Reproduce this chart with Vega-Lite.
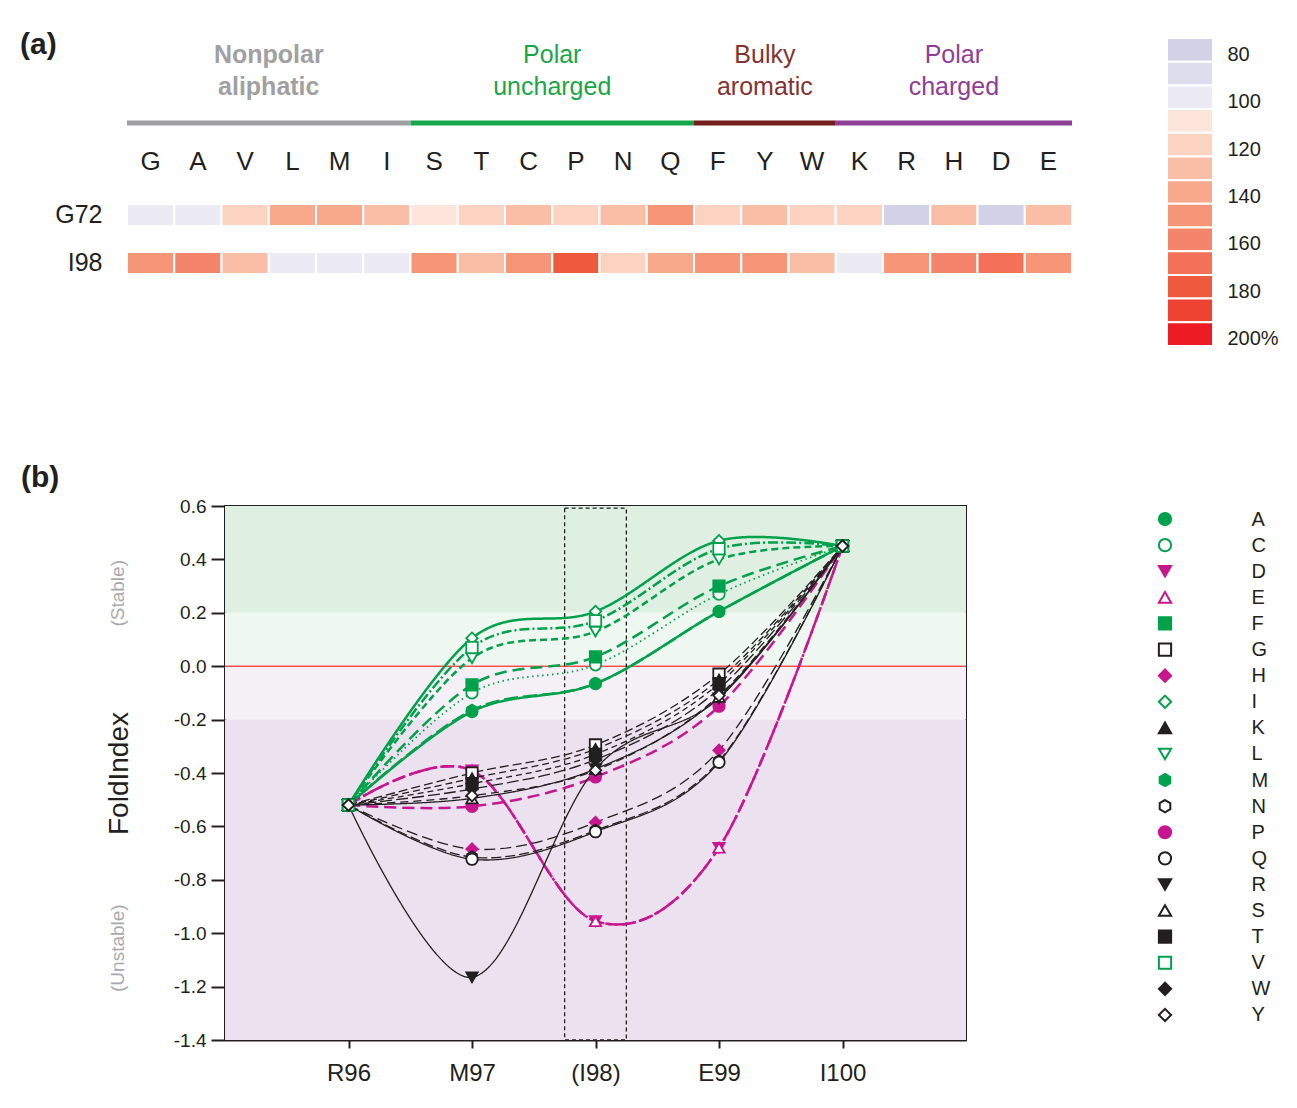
{
  "$schema": "https://vega.github.io/schema/vega-lite/v6.json",
  "padding": {"left": 19, "top": 30, "right": 5, "bottom": 5},
  "background": "white",
  "columns": 2,
  "align": "none",
  "spacing": {"row": 113, "column": 0},
  "config": {
    "font": "Liberation Sans",
    "view": {"stroke": null},
    "axis": {"grid": false, "labelFont": "Liberation Sans", "titleFont": "Liberation Sans", "labelColor": "#231f20", "titleColor": "#231f20", "domainColor": "#231f20", "tickColor": "#231f20"},
    "title": {"font": "Liberation Sans", "fontSize": 30, "fontWeight": "bold", "color": "#231f20", "anchor": "start", "frame": "group"}
  },
  "resolve": {
    "scale": {"color": "independent", "fill": "independent", "stroke": "independent", "shape": "independent", "strokeDash": "independent", "strokeWidth": "independent"}
  },
  "datasets": {
    "heat": [
      {"aa":"G","site":"G72","pct":100},{"aa":"A","site":"G72","pct":100},{"aa":"V","site":"G72","pct":120},{"aa":"L","site":"G72","pct":140},{"aa":"M","site":"G72","pct":140},
      {"aa":"I","site":"G72","pct":130},{"aa":"S","site":"G72","pct":110},{"aa":"T","site":"G72","pct":120},{"aa":"C","site":"G72","pct":130},{"aa":"P","site":"G72","pct":120},
      {"aa":"N","site":"G72","pct":130},{"aa":"Q","site":"G72","pct":150},{"aa":"F","site":"G72","pct":120},{"aa":"Y","site":"G72","pct":130},{"aa":"W","site":"G72","pct":120},
      {"aa":"K","site":"G72","pct":120},{"aa":"R","site":"G72","pct":80},{"aa":"H","site":"G72","pct":130},{"aa":"D","site":"G72","pct":80},{"aa":"E","site":"G72","pct":130},
      {"aa":"G","site":"I98","pct":150},{"aa":"A","site":"I98","pct":160},{"aa":"V","site":"I98","pct":130},{"aa":"L","site":"I98","pct":100},{"aa":"M","site":"I98","pct":100},
      {"aa":"I","site":"I98","pct":100},{"aa":"S","site":"I98","pct":150},{"aa":"T","site":"I98","pct":130},{"aa":"C","site":"I98","pct":150},{"aa":"P","site":"I98","pct":180},
      {"aa":"N","site":"I98","pct":120},{"aa":"Q","site":"I98","pct":140},{"aa":"F","site":"I98","pct":150},{"aa":"Y","site":"I98","pct":150},{"aa":"W","site":"I98","pct":130},
      {"aa":"K","site":"I98","pct":100},{"aa":"R","site":"I98","pct":150},{"aa":"H","site":"I98","pct":160},{"aa":"D","site":"I98","pct":170},{"aa":"E","site":"I98","pct":150}
    ],
    "bins": [
      {"pct":80},{"pct":90},{"pct":100},{"pct":110},{"pct":120},{"pct":130},{"pct":140},{"pct":150},{"pct":160},{"pct":170},{"pct":180},{"pct":190},{"pct":200}
    ],
    "groups": [
      {"name":"Nonpolar aliphatic","first":"G","last":"I","mid":"L"},
      {"name":"Polar uncharged","first":"S","last":"Q","mid":"P"},
      {"name":"Bulky aromatic","first":"F","last":"W","mid":"Y"},
      {"name":"Polar charged","first":"K","last":"E","mid":"H"}
    ],
    "bands": [
      {"zone":"stable","lo":0.2,"hi":0.6},
      {"zone":"marginally stable","lo":0,"hi":0.2},
      {"zone":"marginally unstable","lo":-0.2,"hi":0},
      {"zone":"unstable","lo":-1.4,"hi":-0.2}
    ],
    "window": [
      {"site":"I98","res_lo":97.75,"res_hi":98.25,"fi_lo":-1.4,"fi_hi":0.592}
    ],
    "fold": [
      {"aa":"A","res":96,"fi":-0.52},{"aa":"A","res":97,"fi":-0.17},{"aa":"A","res":98,"fi":-0.065},{"aa":"A","res":99,"fi":0.205},{"aa":"A","res":100,"fi":0.45},
      {"aa":"C","res":96,"fi":-0.52},{"aa":"C","res":97,"fi":-0.10},{"aa":"C","res":98,"fi":0.005},{"aa":"C","res":99,"fi":0.27},{"aa":"C","res":100,"fi":0.45},
      {"aa":"D","res":96,"fi":-0.52},{"aa":"D","res":97,"fi":-0.39},{"aa":"D","res":98,"fi":-0.955},{"aa":"D","res":99,"fi":-0.68},{"aa":"D","res":100,"fi":0.45},
      {"aa":"E","res":96,"fi":-0.52},{"aa":"E","res":97,"fi":-0.39},{"aa":"E","res":98,"fi":-0.955},{"aa":"E","res":99,"fi":-0.68},{"aa":"E","res":100,"fi":0.45},
      {"aa":"F","res":96,"fi":-0.52},{"aa":"F","res":97,"fi":-0.07},{"aa":"F","res":98,"fi":0.035},{"aa":"F","res":99,"fi":0.30},{"aa":"F","res":100,"fi":0.45},
      {"aa":"G","res":96,"fi":-0.52},{"aa":"G","res":97,"fi":-0.40},{"aa":"G","res":98,"fi":-0.295},{"aa":"G","res":99,"fi":-0.03},{"aa":"G","res":100,"fi":0.45},
      {"aa":"H","res":96,"fi":-0.52},{"aa":"H","res":97,"fi":-0.685},{"aa":"H","res":98,"fi":-0.585},{"aa":"H","res":99,"fi":-0.315},{"aa":"H","res":100,"fi":0.45},
      {"aa":"I","res":96,"fi":-0.52},{"aa":"I","res":97,"fi":0.105},{"aa":"I","res":98,"fi":0.205},{"aa":"I","res":99,"fi":0.47},{"aa":"I","res":100,"fi":0.45},
      {"aa":"K","res":96,"fi":-0.52},{"aa":"K","res":97,"fi":-0.42},{"aa":"K","res":98,"fi":-0.31},{"aa":"K","res":99,"fi":-0.05},{"aa":"K","res":100,"fi":0.45},
      {"aa":"L","res":96,"fi":-0.52},{"aa":"L","res":97,"fi":0.03},{"aa":"L","res":98,"fi":0.13},{"aa":"L","res":99,"fi":0.40},{"aa":"L","res":100,"fi":0.45},
      {"aa":"M","res":96,"fi":-0.52},{"aa":"M","res":97,"fi":-0.165},{"aa":"M","res":98,"fi":-0.065},{"aa":"M","res":99,"fi":0.205},{"aa":"M","res":100,"fi":0.45},
      {"aa":"N","res":96,"fi":-0.52},{"aa":"N","res":97,"fi":-0.715},{"aa":"N","res":98,"fi":-0.615},{"aa":"N","res":99,"fi":-0.355},{"aa":"N","res":100,"fi":0.45},
      {"aa":"P","res":96,"fi":-0.52},{"aa":"P","res":97,"fi":-0.525},{"aa":"P","res":98,"fi":-0.415},{"aa":"P","res":99,"fi":-0.15},{"aa":"P","res":100,"fi":0.45},
      {"aa":"Q","res":96,"fi":-0.52},{"aa":"Q","res":97,"fi":-0.723},{"aa":"Q","res":98,"fi":-0.62},{"aa":"Q","res":99,"fi":-0.36},{"aa":"Q","res":100,"fi":0.45},
      {"aa":"R","res":96,"fi":-0.52},{"aa":"R","res":97,"fi":-1.165},{"aa":"R","res":98,"fi":-0.385},{"aa":"R","res":99,"fi":-0.12},{"aa":"R","res":100,"fi":0.45},
      {"aa":"S","res":96,"fi":-0.52},{"aa":"S","res":97,"fi":-0.495},{"aa":"S","res":98,"fi":-0.385},{"aa":"S","res":99,"fi":-0.115},{"aa":"S","res":100,"fi":0.45},
      {"aa":"T","res":96,"fi":-0.52},{"aa":"T","res":97,"fi":-0.44},{"aa":"T","res":98,"fi":-0.33},{"aa":"T","res":99,"fi":-0.065},{"aa":"T","res":100,"fi":0.45},
      {"aa":"V","res":96,"fi":-0.52},{"aa":"V","res":97,"fi":0.07},{"aa":"V","res":98,"fi":0.17},{"aa":"V","res":99,"fi":0.44},{"aa":"V","res":100,"fi":0.45},
      {"aa":"W","res":96,"fi":-0.52},{"aa":"W","res":97,"fi":-0.46},{"aa":"W","res":98,"fi":-0.35},{"aa":"W","res":99,"fi":-0.085},{"aa":"W","res":100,"fi":0.45},
      {"aa":"Y","res":96,"fi":-0.52},{"aa":"Y","res":97,"fi":-0.485},{"aa":"Y","res":98,"fi":-0.39},{"aa":"Y","res":99,"fi":-0.11},{"aa":"Y","res":100,"fi":0.45}
    ],
    "zones": [
      {"label":"(Stable)","fi":0.273},
      {"label":"(Unstable)","fi":-1.056}
    ],
    "zero": [
      {"fi":0}
    ]
  },
  "concat": [
    {
      "width": 1, "height": 1,
      "data": {"values": []},
      "mark": "point"
    },
    {
      "hconcat": [
        {
          "title": {"text": "(a)", "dx": -107, "dy": 22, "offset": 0},
          "width": 945,
          "height": 258,
          "layer": [
            {
              "data": {"name": "heat"},
              "mark": {"type": "rect", "stroke": "white", "strokeWidth": 2},
              "encoding": {
                "x": {"field": "aa", "type": "nominal", "sort": null, "scale": {"domain": ["G","A","V","L","M","I","S","T","C","P","N","Q","F","Y","W","K","R","H","D","E"], "paddingInner": 0, "paddingOuter": 0}, "axis": null},
                "y": {"field": "site", "type": "nominal", "sort": null, "scale": {"domain": ["names","bar","letters","G72","I98"], "paddingInner": 0.5417, "paddingOuter": 0.4583}, "axis": {"values": ["G72","I98"], "title": null, "domain": false, "ticks": false, "labelFontSize": 25, "labelPadding": 25}},
                "fill": {"field": "pct", "type": "ordinal", "legend": null,
                  "scale": {"domain": [80,90,100,110,120,130,140,150,160,170,180,190,200], "range": ["#d3d1e6","#dedded","#ecebf4","#fde5dc","#fcd3c1","#fabea6","#f8a88b","#f69677","#f4846a","#f27157","#ef5a3f","#ee4232","#ed1c24"]}}
              }
            },
            {
              "data": {"name": "heat"},
              "transform": [{"filter": "datum.site == 'G72'"}],
              "mark": {"type": "text", "fontSize": 26, "color": "#231f20", "baseline": "middle"},
              "encoding": {
                "x": {"field": "aa", "type": "nominal", "sort": null, "scale": {"domain": ["G","A","V","L","M","I","S","T","C","P","N","Q","F","Y","W","K","R","H","D","E"]}, "axis": null},
                "y": {"datum": "letters", "type": "nominal", "bandPosition": 0.27, "scale": {"domain": ["names","bar","letters","G72","I98"]}, "axis": {"values": ["G72","I98"], "title": null, "domain": false, "ticks": false, "labelFontSize": 25, "labelPadding": 25}},
                "text": {"field": "aa"}
              }
            },
            {
              "data": {"name": "groups"},
              "mark": {"type": "rule", "strokeWidth": 5},
              "encoding": {
                "x": {"field": "first", "type": "nominal", "bandPosition": 0, "scale": {"domain": ["G","A","V","L","M","I","S","T","C","P","N","Q","F","Y","W","K","R","H","D","E"]}, "axis": null},
                "x2": {"field": "last", "bandPosition": 1},
                "y": {"datum": "bar", "type": "nominal", "bandPosition": 0.68, "scale": {"domain": ["names","bar","letters","G72","I98"]}, "axis": {"values": ["G72","I98"], "title": null, "domain": false, "ticks": false, "labelFontSize": 25, "labelPadding": 25}},
                "color": {"field": "name", "type": "nominal", "scale": {"domain": ["Nonpolar aliphatic","Polar uncharged","Bulky aromatic","Polar charged"], "range": ["#a0a0a3","#19a64a","#741e1e","#8e3e96"]}, "legend": null}
              }
            },
            {
              "data": {"name": "groups"},
              "transform": [{"filter": {"field": "name", "oneOf": ["Nonpolar aliphatic"]}}],
              "mark": {"type": "text", "fontSize": 25, "fontWeight": "bold", "lineBreak": " ", "lineHeight": 32, "baseline": "middle", "dy": -16, "color": "#a0a0a3"},
              "encoding": {
                "x": {"field": "mid", "type": "nominal", "bandPosition": 0, "scale": {"domain": ["G","A","V","L","M","I","S","T","C","P","N","Q","F","Y","W","K","R","H","D","E"]}, "axis": null},
                "y": {"datum": "names", "type": "nominal", "scale": {"domain": ["names","bar","letters","G72","I98"]}, "axis": {"values": ["G72","I98"], "title": null, "domain": false, "ticks": false, "labelFontSize": 25, "labelPadding": 25}},
                "text": {"field": "name"}
              }
            },
            {
              "data": {"name": "groups"},
              "transform": [{"filter": {"field": "name", "oneOf": ["Polar uncharged"]}}],
              "mark": {"type": "text", "fontSize": 25, "lineBreak": " ", "lineHeight": 32, "baseline": "middle", "dy": -16, "color": "#19a64a"},
              "encoding": {
                "x": {"field": "mid", "type": "nominal", "bandPosition": 0, "scale": {"domain": ["G","A","V","L","M","I","S","T","C","P","N","Q","F","Y","W","K","R","H","D","E"]}, "axis": null},
                "y": {"datum": "names", "type": "nominal", "scale": {"domain": ["names","bar","letters","G72","I98"]}, "axis": {"values": ["G72","I98"], "title": null, "domain": false, "ticks": false, "labelFontSize": 25, "labelPadding": 25}},
                "text": {"field": "name"}
              }
            },
            {
              "data": {"name": "groups"},
              "transform": [{"filter": {"field": "name", "oneOf": ["Bulky aromatic"]}}],
              "mark": {"type": "text", "fontSize": 25, "lineBreak": " ", "lineHeight": 32, "baseline": "middle", "dy": -16, "color": "#843333"},
              "encoding": {
                "x": {"field": "mid", "type": "nominal", "bandPosition": 0.5, "scale": {"domain": ["G","A","V","L","M","I","S","T","C","P","N","Q","F","Y","W","K","R","H","D","E"]}, "axis": null},
                "y": {"datum": "names", "type": "nominal", "scale": {"domain": ["names","bar","letters","G72","I98"]}, "axis": {"values": ["G72","I98"], "title": null, "domain": false, "ticks": false, "labelFontSize": 25, "labelPadding": 25}},
                "text": {"field": "name"}
              }
            },
            {
              "data": {"name": "groups"},
              "transform": [{"filter": {"field": "name", "oneOf": ["Polar charged"]}}],
              "mark": {"type": "text", "fontSize": 25, "lineBreak": " ", "lineHeight": 32, "baseline": "middle", "dy": -16, "color": "#8e3e96"},
              "encoding": {
                "x": {"field": "mid", "type": "nominal", "bandPosition": 0.5, "scale": {"domain": ["G","A","V","L","M","I","S","T","C","P","N","Q","F","Y","W","K","R","H","D","E"]}, "axis": null},
                "y": {"datum": "names", "type": "nominal", "scale": {"domain": ["names","bar","letters","G72","I98"]}, "axis": {"values": ["G72","I98"], "title": null, "domain": false, "ticks": false, "labelFontSize": 25, "labelPadding": 25}},
                "text": {"field": "name"}
              }
            }
          ]
        },
        {
          "width": 46,
          "height": 308,
          "data": {"name": "bins"},
          "mark": {"type": "rect", "stroke": "white", "strokeWidth": 2},
          "encoding": {
            "y": {"field": "pct", "type": "ordinal", "sort": null,
              "scale": {"domain": [80,90,100,110,120,130,140,150,160,170,180,190,200], "paddingInner": 0, "paddingOuter": 0},
              "axis": {"orient": "right", "values": [80,100,120,140,160,180,200], "title": null, "domain": false, "ticks": false, "labelFontSize": 20, "labelPadding": 14, "labelOffset": 5,
                "labelExpr": "datum.value == 200 ? '200%' : (datum.value < 100 ? '\u2007' + datum.label : datum.label)"}},
            "fill": {"field": "pct", "type": "ordinal", "legend": null,
              "scale": {"domain": [80,90,100,110,120,130,140,150,160,170,180,190,200], "range": ["#d3d1e6","#dedded","#ecebf4","#fde5dc","#fcd3c1","#fabea6","#f8a88b","#f69677","#f4846a","#f27157","#ef5a3f","#ee4232","#ed1c24"]}}
          }
        }
      ],
      "spacing": 91
    },
    {
      "width": 1, "height": 1,
      "data": {"values": []},
      "mark": "point"
    },
    {
      "hconcat": [
        {
          "title": {"text": "(b)", "dx": -204, "offset": 4},
          "width": 741,
          "height": 534,
          "view": {"stroke": "#231f20", "strokeWidth": 2},
          "encoding": {
            "x": {"type": "quantitative", "scale": {"domain": [95, 101], "nice": false, "zero": false},
              "axis": {"values": [96, 97, 98, 99, 100], "labelExpr": "datum.value == 96 ? 'R96' : datum.value == 97 ? 'M97' : datum.value == 98 ? '(I98)' : datum.value == 99 ? 'E99' : 'I100'", "title": null, "labelFontSize": 24, "tickSize": 8, "tickWidth": 2, "domainWidth": 2, "labelPadding": 13}},
            "y": {"type": "quantitative", "scale": {"domain": [-1.4, 0.6], "nice": false, "zero": false},
              "axis": {"values": [-1.4, -1.2, -1.0, -0.8, -0.6, -0.4, -0.2, 0, 0.2, 0.4, 0.6], "labelExpr": "replace(format(datum.value, '.1f'), '\u2212', '-')", "title": "FoldIndex", "titleFontSize": 28, "titleFontWeight": "normal", "titlePadding": 40, "labelFontSize": 19, "tickSize": 14, "tickWidth": 2, "domainWidth": 2, "labelPadding": 5}}
          },
          "layer": [
            {
              "data": {"name": "bands"},
              "transform": [{"filter": {"field": "zone", "equal": "stable"}}],
              "mark": {"type": "rect", "fill": "#dff0e3"},
              "encoding": {"x": {"datum": 95}, "x2": {"datum": 101}, "y": {"field": "hi"}, "y2": {"field": "lo"}}
            },
            {
              "data": {"name": "bands"},
              "transform": [{"filter": {"field": "zone", "equal": "marginally stable"}}],
              "mark": {"type": "rect", "fill": "#eef7f0"},
              "encoding": {"x": {"datum": 95}, "x2": {"datum": 101}, "y": {"field": "hi"}, "y2": {"field": "lo"}}
            },
            {
              "data": {"name": "bands"},
              "transform": [{"filter": {"field": "zone", "equal": "marginally unstable"}}],
              "mark": {"type": "rect", "fill": "#f5eff6"},
              "encoding": {"x": {"datum": 95}, "x2": {"datum": 101}, "y": {"field": "hi"}, "y2": {"field": "lo"}}
            },
            {
              "data": {"name": "bands"},
              "transform": [{"filter": {"field": "zone", "equal": "unstable"}}],
              "mark": {"type": "rect", "fill": "#ece1ee"},
              "encoding": {"x": {"datum": 95}, "x2": {"datum": 101}, "y": {"field": "hi"}, "y2": {"field": "lo"}}
            },
            {
              "data": {"name": "zero"},
              "mark": {"type": "rule", "color": "#ff0000", "strokeWidth": 1},
              "encoding": {"x": {"datum": 95}, "x2": {"datum": 101}, "y": {"field": "fi"}}
            },
            {
              "data": {"name": "window"},
              "mark": {"type": "rect", "fill": "transparent", "stroke": "#231f20", "strokeWidth": 1.3, "strokeDash": [4, 3]},
              "encoding": {"x": {"field": "res_lo"}, "x2": {"field": "res_hi"}, "y": {"field": "fi_lo"}, "y2": {"field": "fi_hi"}}
            },
            {
              "data": {"name": "fold"},
              "mark": {"type": "line", "interpolate": "cardinal"},
              "encoding": {
                "x": {"field": "res"},
                "y": {"field": "fi"},
                "detail": {"field": "aa", "type": "nominal"},
                "color": {"field": "aa", "type": "nominal", "scale": {"domain": ["A","C","D","E","F","G","H","I","K","L","M","N","P","Q","R","S","T","V","W","Y"], "range": ["#00a14b","#00a14b","#c7168f","#c7168f","#00a14b","#231f20","#231f20","#00a14b","#231f20","#00a14b","#00a14b","#231f20","#c7168f","#231f20","#231f20","#231f20","#231f20","#00a14b","#231f20","#231f20"]}, "legend": null},
                "strokeDash": {"field": "aa", "type": "nominal", "scale": {"domain": ["A","C","D","E","F","G","H","I","K","L","M","N","P","Q","R","S","T","V","W","Y"], "range": [[1,0],[1.5,3.5],[12,5],[14,4,3,4],[12,6],[9,4],[11,5],[1,0],[7,4],[7,4],[14,5],[10,4],[12,6],[1,0],[1,0],[1,0],[6,4],[10,3,2,3],[12,4],[8,5]]}, "legend": null},
                "strokeWidth": {"field": "aa", "type": "nominal", "scale": {"type": "ordinal", "domain": ["A","C","D","E","F","G","H","I","K","L","M","N","P","Q","R","S","T","V","W","Y"], "range": [2.5,1.8,2.5,2.5,2.5,1.3,1.3,2.5,1.3,2.5,2.5,1.3,2.5,1.3,1.3,1.3,1.3,2.5,1.3,1.3]}, "legend": null}
              }
            },
            {
              "data": {"name": "fold"},
              "mark": {"type": "point", "size": 130, "strokeWidth": 1.8, "opacity": 1},
              "encoding": {
                "x": {"field": "res"},
                "y": {"field": "fi"},
                "shape": {"field": "aa", "type": "nominal", "legend": null, "scale": {"domain": ["A","C","D","E","F","G","H","I","K","L","M","N","P","Q","R","S","T","V","W","Y"], "range": ["circle","circle","triangle-down","triangle-up","square","square","diamond","diamond","triangle-up","triangle-down","M0,-1L0.866,-0.5L0.866,0.5L0,1L-0.866,0.5L-0.866,-0.5Z","M0,-1L0.866,-0.5L0.866,0.5L0,1L-0.866,0.5L-0.866,-0.5Z","circle","circle","triangle-down","triangle-up","square","square","diamond","diamond"]}},
                "fill": {"field": "aa", "type": "nominal", "legend": null, "scale": {"domain": ["A","C","D","E","F","G","H","I","K","L","M","N","P","Q","R","S","T","V","W","Y"], "range": ["#00a14b","#ffffff","#c7168f","#ffffff","#00a14b","#ffffff","#c7168f","#ffffff","#231f20","#ffffff","#00a14b","#ffffff","#c7168f","#ffffff","#231f20","#ffffff","#231f20","#ffffff","#231f20","#ffffff"]}},
                "stroke": {"field": "aa", "type": "nominal", "legend": null, "scale": {"domain": ["A","C","D","E","F","G","H","I","K","L","M","N","P","Q","R","S","T","V","W","Y"], "range": ["#00a14b","#00a14b","#c7168f","#c7168f","#00a14b","#231f20","#c7168f","#00a14b","#231f20","#00a14b","#00a14b","#231f20","#c7168f","#231f20","#231f20","#231f20","#231f20","#00a14b","#231f20","#231f20"]}}
              }
            },
            {
              "data": {"name": "zones"},
              "mark": {"type": "text", "angle": 270, "fontSize": 19, "color": "#a7a9ac", "baseline": "middle", "align": "center"},
              "encoding": {
                "x": {"datum": 94.134},
                "y": {"field": "fi"},
                "text": {"field": "label"}
              }
            }
          ]
        },
        {
          "width": 14,
          "height": 522,
          "data": {"name": "fold"},
          "transform": [{"filter": "datum.res == 96"}],
          "mark": {"type": "point", "size": 150, "strokeWidth": 2, "opacity": 1},
          "encoding": {
            "y": {"field": "aa", "type": "nominal", "sort": null,
              "scale": {"domain": ["A","C","D","E","F","G","H","I","K","L","M","N","P","Q","R","S","T","V","W","Y"], "paddingInner": 0, "paddingOuter": 0},
              "axis": {"orient": "right", "title": null, "domain": false, "ticks": false, "labelFontSize": 20, "labelPadding": 79}},
            "shape": {"field": "aa", "type": "nominal", "legend": null, "scale": {"domain": ["A","C","D","E","F","G","H","I","K","L","M","N","P","Q","R","S","T","V","W","Y"], "range": ["circle","circle","triangle-down","triangle-up","square","square","diamond","diamond","triangle-up","triangle-down","M0,-1L0.866,-0.5L0.866,0.5L0,1L-0.866,0.5L-0.866,-0.5Z","M0,-1L0.866,-0.5L0.866,0.5L0,1L-0.866,0.5L-0.866,-0.5Z","circle","circle","triangle-down","triangle-up","square","square","diamond","diamond"]}},
            "fill": {"field": "aa", "type": "nominal", "legend": null, "scale": {"domain": ["A","C","D","E","F","G","H","I","K","L","M","N","P","Q","R","S","T","V","W","Y"], "range": ["#00a14b","#ffffff","#c7168f","#ffffff","#00a14b","#ffffff","#c7168f","#ffffff","#231f20","#ffffff","#00a14b","#ffffff","#c7168f","#ffffff","#231f20","#ffffff","#231f20","#ffffff","#231f20","#ffffff"]}},
            "stroke": {"field": "aa", "type": "nominal", "legend": null, "scale": {"domain": ["A","C","D","E","F","G","H","I","K","L","M","N","P","Q","R","S","T","V","W","Y"], "range": ["#00a14b","#00a14b","#c7168f","#c7168f","#00a14b","#231f20","#c7168f","#00a14b","#231f20","#00a14b","#00a14b","#231f20","#c7168f","#231f20","#231f20","#231f20","#231f20","#00a14b","#231f20","#231f20"]}}
          }
        }
      ],
      "spacing": 186
    }
  ]
}
